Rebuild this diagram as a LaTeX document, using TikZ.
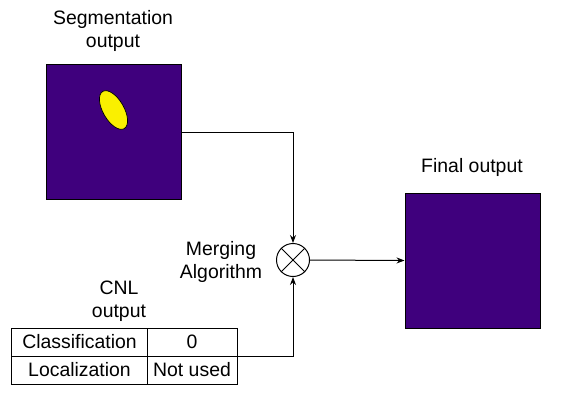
\documentclass[tikz,border=0pt]{standalone}
\usepackage{fontspec}
\setmainfont{Liberation Sans}
\usetikzlibrary{arrows.meta,shapes.geometric}
\definecolor{vdark}{RGB}{63,0,125}
\definecolor{vyellow}{RGB}{250,240,0}
\begin{document}
\begin{tikzpicture}[x=1bp,y=-1bp,
  lbl/.style={font=\fontsize{19.5}{23}\selectfont, align=center, inner sep=0pt},
  imgbox/.style={draw=black, line width=1bp, fill=vdark, minimum width=135bp, minimum height=135bp, inner sep=0pt},
  cell/.style={draw=black, line width=1bp, minimum height=28bp, inner sep=0pt, font=\fontsize{19.5}{23}\selectfont},
  conn/.style={draw=black, line width=1bp, -{Stealth[length=8bp,width=6bp]}}]
\useasboundingbox (0,0) rectangle (569,403);
% segmentation output
\node[lbl] (segtxt) at (113,31) {Segmentation\\output};
\node[imgbox] (seg) at (113.5,132) {};
\node[draw=black, line width=0.7bp, fill=vyellow, ellipse, minimum width=43bp, minimum height=21bp, inner sep=0pt, rotate=-60] (blob) at (113.5,110) {};
% final output
\node[lbl] (fintxt) at (472,167) {Final output};
\node[imgbox] (fin) at (472.5,260.5) {};
% merging
\node[draw=black, line width=1bp, circle, minimum size=33bp, inner sep=0pt] (mc) at (293,260) {};
\draw[line width=1bp] (mc.45) -- (mc.225) (mc.135) -- (mc.315);
\node[lbl] (mtxt) at (221,262) {Merging\\Algorithm};
% CNL table
\node[lbl] (cnltxt) at (119,301) {CNL\\output};
\node[cell, minimum width=135bp] (c11) at (79.5,342) {Classification};
\node[cell, minimum width=90bp] (c12) at (192,342) {0};
\node[cell, minimum width=135bp] (c21) at (79.5,370) {Localization};
\node[cell, minimum width=90bp] (c22) at (192,370) {Not used};
\coordinate (tabright) at (237,356);
% connectors
\draw[conn] (seg.east) -| (mc.north);
\draw[conn] (tabright) -| (mc.south);
\draw[conn] (mc.east) -- (fin.west);
\end{tikzpicture}
\end{document}
